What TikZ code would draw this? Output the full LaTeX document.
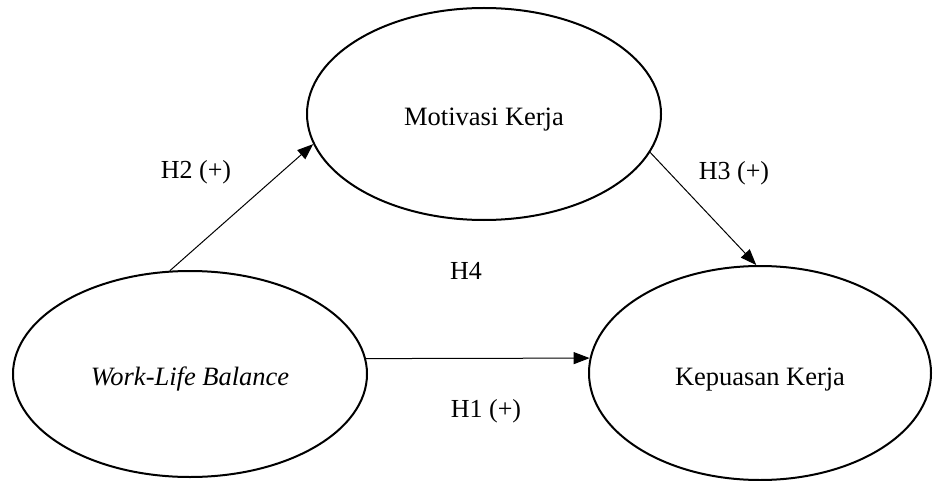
\documentclass[tikz,border=0pt]{standalone}
\usepackage{fontspec}
\setmainfont{Liberation Serif}
\usetikzlibrary{shapes.geometric,arrows.meta}
\newcommand{\lowertext}[2]{\raisebox{-#1}[\height][\depth]{#2}}
\begin{document}
\begin{tikzpicture}[x=1pt,y=-1pt,
  construct/.style={ellipse, draw=black, line width=2pt, inner sep=0pt, font=\fontsize{26.5}{30}\selectfont},
  path/.style={draw=black, line width=1pt, -{Triangle[length=16pt,width=12pt]}},
  lbl/.style={font=\fontsize{26}{30}\selectfont, inner sep=0pt}]
\useasboundingbox (0,0) rectangle (933,481);
\node[construct, minimum width=354pt, minimum height=212pt] (mot) at (484,114) {\lowertext{6pt}{Motivasi Kerja}};
\node[construct, minimum width=354pt, minimum height=206pt] (wlb) at (190,374) {\lowertext{5pt}{\itshape Work-Life Balance}};
\node[construct, minimum width=342pt, minimum height=214pt] (kep) at (760,373) {\lowertext{7pt}{Kepuasan Kerja}};
\draw[path] (wlb.101) -- (mot.190.6);
\draw[path] (mot.347.4) -- (kep.92.7);
\draw[path] (wlb.5.2) -- (kep.175);
\node[lbl] (h2) at (196,172) {H2 (+)};
\node[lbl] (h3) at (734,173) {H3 (+)};
\node[lbl] (h4) at (466,271) {H4};
\node[lbl] (h1) at (486,411) {H1 (+)};
\end{tikzpicture}
\end{document}
